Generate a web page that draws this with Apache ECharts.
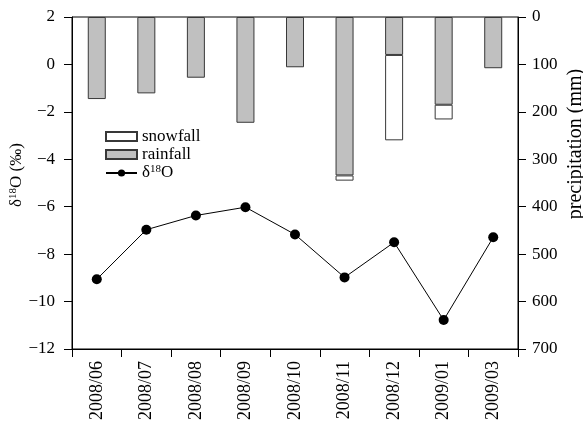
<!DOCTYPE html>
<html><head><meta charset="utf-8">
<script src="https://cdn.jsdelivr.net/npm/echarts@6/dist/echarts.min.js"></script>
<style>html,body{margin:0;padding:0;background:#fff}#c{width:583px;height:423px}</style>
</head><body><div id="c"></div>
<script>
const categories = ['2008/06','2008/07','2008/08','2008/09','2008/10','2008/11','2008/12','2009/01','2009/03'];
const rainfall = [173, 161, 128, 223, 106, 334, 80, 185, 108];
const snowfall = [null, null, null, null, null, 11, 180, 31, null];
const d18O = [-9.06, -6.97, -6.37, -6.02, -7.17, -8.98, -7.5, -10.78, -7.29];

const font = "'Liberation Serif', 'Times New Roman', serif";
const rich = {a: {fontFamily: font, fontSize: 17, color: '#000'}, s: {fontFamily: font, fontSize: 11, color: '#000', verticalAlign: 'top', padding: [0,0,7,0]}};
const chart = echarts.init(document.getElementById('c'));
chart.setOption({
  animation: false,
  textStyle: {fontFamily: font},
  grid: {left: 72, right: 65, top: 17, bottom: 74, show: true, borderColor: '#000', borderWidth: 1,
         containLabel: false, outerBoundsMode: 'none'},
  legend: {
    orient: 'vertical', left: 105, top: 128, padding: 0, itemWidth: 31, itemHeight: 9, itemGap: 1,
    data: [{name: 'snowfall', icon: 'rect'}, {name: 'rainfall', icon: 'rect'}, {name: 'δ18O'}],
    formatter: function(n){ return n === 'δ18O' ? '{a|δ}{s|18}{a|O}' : n; },
    textStyle: {fontFamily: font, fontSize: 17, color: '#000', rich: rich}
  },
  xAxis: {
    type: 'category', data: categories, boundaryGap: true,
    axisLine: {onZero: false, lineStyle: {color: '#000', width: 1}},
    axisTick: {show: true, alignWithLabel: false, length: 8, lineStyle: {color: '#000'}},
    axisLabel: {rotate: 90, fontSize: 18, color: '#000', fontFamily: font, margin: 12, interval: 0}
  },
  yAxis: [{
    type: 'value', min: -12, max: 2, interval: 2, position: 'left',
    name: '{a|δ}{s|18}{a|O (‰)}', nameLocation: 'middle', nameGap: 46, nameRotate: 90, nameMoveOverlap: false,
    nameTextStyle: {rich: rich, padding: [0, 0, 0, 16]},
    axisLine: {show: true, onZero: false, lineStyle: {color: '#000'}},
    axisTick: {show: true, length: 8, lineStyle: {color: '#000'}},
    splitLine: {show: false},
    axisLabel: {fontSize: 17, color: '#000', fontFamily: font, margin: 17,
      formatter: function(v){ return String(v).replace('-', '\u2212'); }}
  }, {
    type: 'value', min: 0, max: 700, interval: 100, position: 'right', inverse: true,
    name: 'precipitation (mm)', nameLocation: 'middle', nameGap: 48, nameRotate: 90, nameMoveOverlap: false,
    nameTextStyle: {fontFamily: font, fontSize: 20, color: '#000', padding: [0, 0, 0, 78]},
    axisLine: {show: true, onZero: false, lineStyle: {color: '#000'}},
    axisTick: {show: true, length: 8, lineStyle: {color: '#000'}},
    splitLine: {show: false},
    axisLabel: {fontSize: 17, color: '#000', fontFamily: font, margin: 14}
  }],
  series: [{
    name: 'rainfall', type: 'bar', yAxisIndex: 1, stack: 'p', data: rainfall, barWidth: 18,
    itemStyle: {color: '#c0c0c0', borderColor: '#383838', borderWidth: 1}
  }, {
    name: 'snowfall', type: 'bar', yAxisIndex: 1, stack: 'p', data: snowfall, barWidth: 18,
    itemStyle: {color: '#fff', borderColor: '#383838', borderWidth: 1}
  }, {
    name: 'δ18O', type: 'line', yAxisIndex: 0, data: d18O,
    symbol: 'circle', symbolSize: 10,
    lineStyle: {color: '#000', width: 1}, itemStyle: {color: '#000'}
  }]
});
</script></body></html>
